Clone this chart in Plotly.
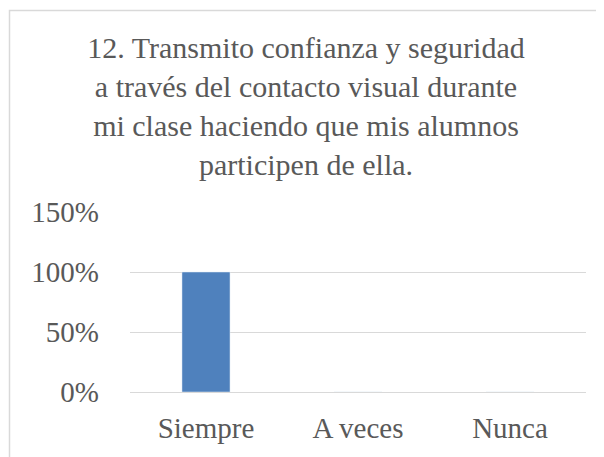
import plotly.graph_objects as go

categories = ["Siempre", "A veces", "Nunca"]
values = [100, 0, 0]
y_ticks = [0, 50, 100, 150]
y_tick_labels = ["0%", "50%", "100%", "150%"]

title_text = ("12. Transmito confianza y seguridad<br>a través del contacto visual durante"
              "<br>mi clase haciendo que mis alumnos<br>participen de ella.")

serif = "Liberation Serif, Times New Roman, serif"
grey = "#595959"

# the page body adds an 8px offset, so the figure is 8px smaller
W, H = 596, 449

fig = go.Figure(
    go.Bar(x=categories, y=values, marker_color="#4F81BD", width=0.316)
)

fig.update_layout(
    width=W,
    height=H,
    margin=dict(l=122, r=18, t=204, b=65),
    paper_bgcolor="white",
    plot_bgcolor="white",
    showlegend=False,
    font=dict(family=serif, color=grey, size=29),
    title=dict(
        text=title_text,
        x=0.5,
        xanchor="center",
        xref="container",
        y=1 - 50 / H,
        yanchor="top",
        yref="container",
        font=dict(size=30, color=grey),
    ),
)

fig.update_yaxes(
    range=[0, 150],
    tickvals=y_ticks,
    ticktext=y_tick_labels,
    showgrid=True,
    gridcolor="#d9d9d9",
    gridwidth=1,
    zeroline=True,
    zerolinecolor="#d9d9d9",
    zerolinewidth=1,
    showline=False,
    ticks="",
    ticklabelstandoff=30,
    tickfont=dict(size=29, color=grey),
)
fig.update_xaxes(
    showline=False,
    ticks="",
    ticklabelstandoff=16,
    tickfont=dict(size=29, color=grey),
)

# chart frame (right and bottom edges fall outside the picture)
fig.add_shape(
    type="rect",
    xref="paper",
    yref="paper",
    x0=(1.5 - 122) / 456,
    x1=(620 - 122) / 456,
    y0=(384 - 470) / 180,
    y1=(384 - 2.5) / 180,
    line=dict(color="#d9d9d9", width=1.5),
    layer="above",
)

fig.write_html("out.html")
